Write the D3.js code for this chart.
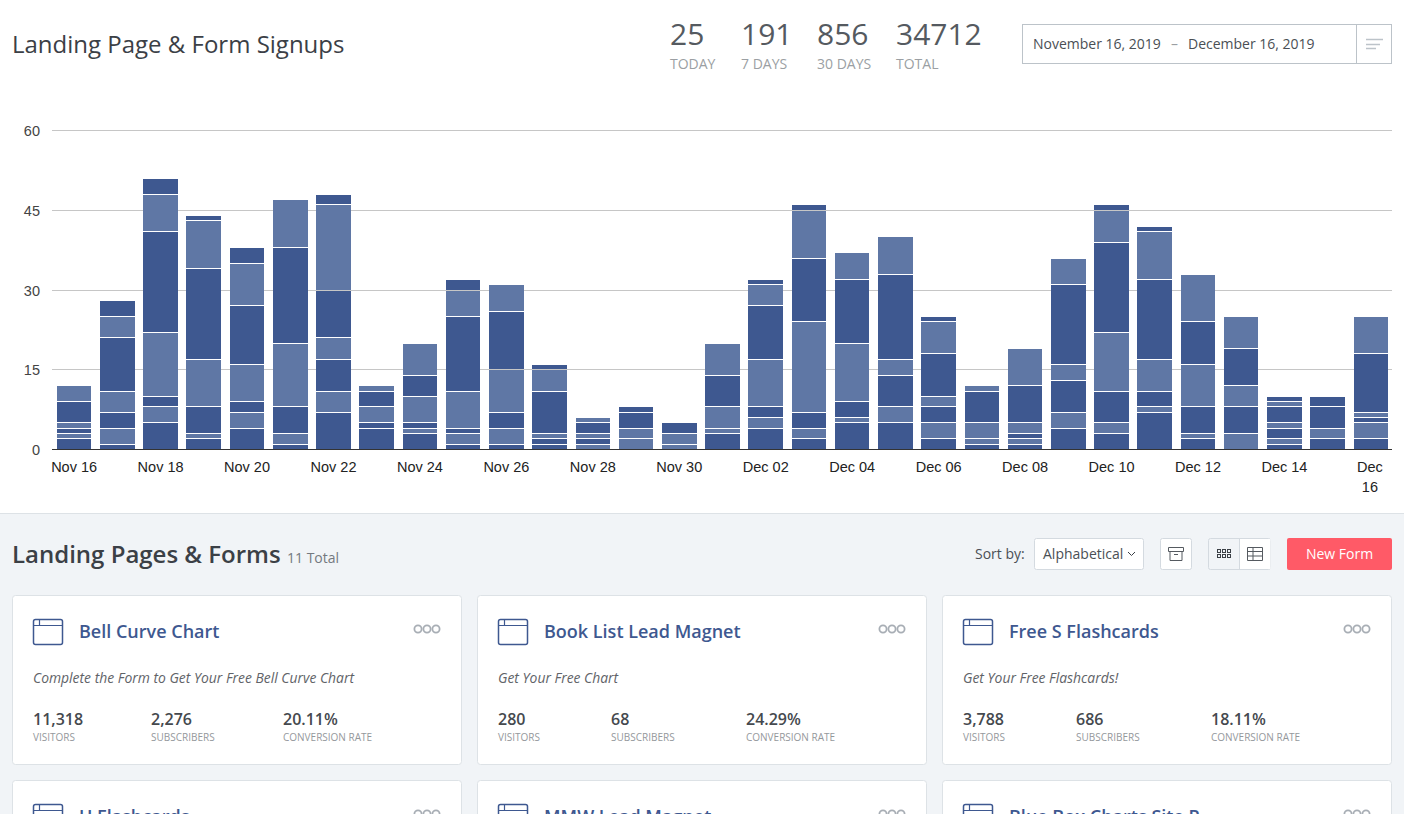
<!DOCTYPE html>
<html>
<head>
<meta charset="utf-8">
<script src="https://d3js.org/d3.v7.min.js"></script>
<style>
  html, body { margin: 0; padding: 0; background: #fff; overflow: hidden; }
  text { font-family: "Open Sans", sans-serif; }
  .axis text { font-family: "Liberation Sans", Arial, sans-serif; }
</style>
</head>
<body>
<div id="chart"></div>
<script>
const FRAME_WIDTH = 1404;
const FRAME_HEIGHT = 814;

const DAYS = ["Nov 16","Nov 17","Nov 18","Nov 19","Nov 20","Nov 21","Nov 22","Nov 23","Nov 24","Nov 25","Nov 26","Nov 27","Nov 28","Nov 29","Nov 30",
              "Dec 01","Dec 02","Dec 03","Dec 04","Dec 05","Dec 06","Dec 07","Dec 08","Dec 09","Dec 10","Dec 11","Dec 12","Dec 13","Dec 14","Dec 15","Dec 16"];

// one array per form, bottom of the stack first
const S0 = [2,1,5,2,4,1,7,4,3,1,1,1,0,0,0,3,4,2,5,5,2,1,1,4,3,7,2,0,1,2,2];
const S1 = [1,3,3,1,3,2,4,0,1,2,3,0,1,2,1,1,2,2,1,3,3,1,1,3,2,1,1,3,1,2,3];
const S2 = [1,3,2,5,2,5,6,1,1,1,3,1,1,0,0,0,2,3,3,6,3,0,1,6,6,3,5,5,2,4,1];
const S3 = [1,4,12,9,7,12,4,3,5,7,8,1,1,2,2,4,9,17,11,3,2,3,2,3,11,6,8,4,1,0,1];
const S4 = [4,10,19,17,11,18,9,3,4,14,11,8,2,3,2,6,10,12,12,16,8,6,7,15,17,15,8,7,3,2,11];
const S5 = [3,4,7,9,8,9,16,1,6,5,5,4,1,0,0,6,4,9,5,7,6,1,7,5,6,9,9,6,1,0,7];
const S6 = [0,3,3,1,3,0,2,0,0,2,0,1,0,1,0,0,1,1,0,0,1,0,0,0,1,1,0,0,1,0,0];
const SERIES = [S0, S1, S2, S3, S4, S5, S6];

const Y_TICKS = [0, 15, 30, 45, 60];
const X_TICKS = ["Nov 16","Nov 18","Nov 20","Nov 22","Nov 24","Nov 26","Nov 28","Nov 30","Dec 02","Dec 04","Dec 06","Dec 08","Dec 10","Dec 12","Dec 14","Dec 16"];

const STAT_VALUES = ["25", "191", "856", "34712"];
const STAT_LABELS = ["TODAY", "7 DAYS", "30 DAYS", "TOTAL"];

const CARD_TITLES = ["Bell Curve Chart", "Book List Lead Magnet", "Free S Flashcards"];
const CARD_SUBS = ["Complete the Form to Get Your Free Bell Curve Chart", "Get Your Free Chart", "Get Your Free Flashcards!"];
const CARD_VISITORS = ["11,318", "280", "3,788"];
const CARD_SUBSCRIBERS = ["2,276", "68", "686"];
const CARD_RATES = ["20.11%", "24.29%", "18.11%"];
const CARD_TITLES2 = ["U Flashcards", "MMW Lead Magnet", "Blue Box Charts Site P"];

const DARK = "#3e5890";
const LIGHT = "#5f77a5";

const FRAME = d3.select("#chart").append("svg")
    .attr("width", FRAME_WIDTH)
    .attr("height", FRAME_HEIGHT)
    .style("display", "block");

const X_SCALE = d3.scaleBand().domain(DAYS).range([52.5, 1392.5]).paddingInner(0.2).paddingOuter(0.1);
const Y_SCALE = d3.scaleLinear().domain([0, 60]).range([449.5, 130.5]);

// helper for text
function label(parent, x, y, str, size, color, extra) {
  const t = parent.append("text").attr("x", x).attr("y", y).text(str)
      .attr("font-size", size).attr("fill", color);
  if (extra) Object.keys(extra).forEach((k) => t.attr(k, extra[k]));
  return t;
}

// header
label(FRAME, 12, 53, "Landing Page & Form Signups", 24, "#3b4046");

const STAT_X = [670, 741, 817, 896];
STAT_VALUES.forEach((v, i) => {
  label(FRAME, STAT_X[i], 45, v, 30, "#555a60");
  label(FRAME, STAT_X[i], 69, STAT_LABELS[i], 14, "#9b9fa3");
});

FRAME.append("rect").attr("x", 1022.5).attr("y", 24.5).attr("width", 369).attr("height", 39)
    .attr("fill", "#fff").attr("stroke", "#bcc3c9");
FRAME.append("line").attr("x1", 1356.5).attr("x2", 1356.5).attr("y1", 24.5).attr("y2", 63.5).attr("stroke", "#bcc3c9");
label(FRAME, 1033, 49, "November 16, 2019", 14, "#4a4f55");
label(FRAME, 1171, 49, "–", 14, "#9b9fa3");
label(FRAME, 1188, 49, "December 16, 2019", 14, "#4a4f55");
[[1366, 1383, 39.5], [1366, 1380, 44.5], [1366, 1376, 48.5]].forEach((d) => {
  FRAME.append("line").attr("x1", d[0]).attr("x2", d[1]).attr("y1", d[2]).attr("y2", d[2])
      .attr("stroke", "#bcc3c9").attr("stroke-width", 1.5);
});

// gridlines + y labels
const yAxis = d3.axisLeft(Y_SCALE).tickValues(Y_TICKS).tickSize(-1340).tickPadding(12);
const yG = FRAME.append("g").attr("class", "axis").attr("transform", "translate(52,0)").call(yAxis);
yG.select(".domain").remove();
yG.selectAll(".tick").attr("transform", (d) => "translate(0," + (Math.floor(Y_SCALE(d)) + 0.5) + ")");
yG.selectAll(".tick line").attr("stroke", "#c6c6c6");
yG.selectAll(".tick text").attr("font-size", 14.5).attr("fill", "#444").attr("y", 1);

// stacked bars, top row of a segment sits just under its gap row
const stacked = d3.stack().keys(d3.range(SERIES.length)).value((d, k) => SERIES[k][d])(d3.range(DAYS.length));
const rows = (d) => Math.floor(Y_SCALE(d)) + 1;

FRAME.append("g").selectAll("g")
    .data(stacked)
    .enter().append("g")
      .attr("fill", (d, i) => (i % 2 === 0 ? DARK : LIGHT))
    .selectAll("rect")
    .data((d) => d.filter((p) => p[1] > p[0]))
    .enter().append("rect")
      .attr("x", (d) => Math.round(X_SCALE(DAYS[d.data])))
      .attr("width", (d) => Math.round(X_SCALE(DAYS[d.data]) + X_SCALE.bandwidth()) - Math.round(X_SCALE(DAYS[d.data])))
      .attr("y", (d) => rows(d[1]))
      .attr("height", (d) => rows(d[0]) - rows(d[1]) - 1);

// baseline and x labels
const xAxis = d3.axisBottom(X_SCALE).tickValues(X_TICKS).tickSize(0).tickPadding(12);
const xG = FRAME.append("g").attr("class", "axis").attr("transform", "translate(0,449.5)").call(xAxis);
xG.select(".domain").remove();
xG.selectAll(".tick text").attr("font-size", 14.5).attr("fill", "#222");
FRAME.append("line").attr("x1", 52).attr("x2", 1392).attr("y1", Y_SCALE(0)).attr("y2", Y_SCALE(0)).attr("stroke", "#333");

// last label wraps on two lines
const lastTick = xG.selectAll(".tick text").filter((d) => d === "Dec 16");
lastTick.text(null);
lastTick.append("tspan").attr("x", -1).attr("dy", "0.71em").text("Dec");
lastTick.append("tspan").attr("x", -1).attr("dy", "1.39em").text("16");

// lower panel
FRAME.append("rect").attr("x", 0).attr("y", 514).attr("width", FRAME_WIDTH).attr("height", 300).attr("fill", "#f1f4f7");
FRAME.append("line").attr("x1", 0).attr("x2", FRAME_WIDTH).attr("y1", 513.5).attr("y2", 513.5).attr("stroke", "#dde2e6");

label(FRAME, 12, 563, "Landing Pages & Forms", 24, "#3b4046", {"font-weight": 600});
label(FRAME, 287, 563, "11 Total", 14, "#74797f");
label(FRAME, 975, 559, "Sort by:", 14, "#4a4f55");

function box(x, y, w, h, fill, stroke) {
  return FRAME.append("rect").attr("x", x).attr("y", y).attr("width", w).attr("height", h)
      .attr("rx", 2).attr("fill", fill).attr("stroke", stroke);
}
const BORDER = "#d4dae0";
box(1034.5, 538.5, 109, 31, "#fff", BORDER);
label(FRAME, 1043, 559, "Alphabetical", 14, "#4a4f55");
FRAME.append("path").attr("d", "M1128 552 l3.5 3.5 l3.5 -3.5").attr("fill", "none").attr("stroke", "#3b4046");

box(1160.5, 538.5, 31, 31, "#fff", BORDER);
FRAME.append("path").attr("d", "M1168.5 547.5 h15 v4 h-15 z M1170 551.5 v9 h12 v-9 M1174 554.5 h4")
    .attr("fill", "none").attr("stroke", "#555a60");

box(1208.5, 538.5, 62, 31, "#f1f4f7", BORDER);
FRAME.append("rect").attr("x", 1239.5).attr("y", 539).attr("width", 31).attr("height", 30).attr("fill", "#fff");
FRAME.append("line").attr("x1", 1239.5).attr("x2", 1239.5).attr("y1", 538.5).attr("y2", 569.5).attr("stroke", BORDER);
d3.range(2).forEach((r) => d3.range(3).forEach((c) => {
  FRAME.append("rect").attr("x", 1217.5 + c * 5).attr("y", 549.5 + r * 5).attr("width", 3).attr("height", 3)
      .attr("fill", "none").attr("stroke", "#3b4046");
}));
FRAME.append("path").attr("d", "M1247.5 547.5 h15 v13 h-15 z M1247.5 551.5 h15 M1247.5 556 h15 M1253 547.5 v13")
    .attr("fill", "none").attr("stroke", "#555a60");

FRAME.append("rect").attr("x", 1287).attr("y", 538).attr("width", 105).attr("height", 32).attr("rx", 2).attr("fill", "#ff5a67");
label(FRAME, 1339.5, 559, "New Form", 14, "#fff", {"text-anchor": "middle"});

// form cards
const CARD_X = [12, 477, 942];
const COL_SUBS = [139, 134, 134];
const COL_RATES = [271, 269, 269];
function card(x, y, title) {
  const g = FRAME.append("g").attr("transform", "translate(" + x + "," + y + ")");
  g.append("rect").attr("x", 0.5).attr("y", 0.5).attr("width", 449).attr("height", 169).attr("rx", 3)
      .attr("fill", "#fff").attr("stroke", "#dde2e6");
  g.append("rect").attr("x", 21.5).attr("y", 24.5).attr("width", 29).attr("height", 25).attr("rx", 2)
      .attr("fill", "none").attr("stroke", DARK).attr("stroke-width", 1.5);
  g.append("path").attr("d", "M21.5 30.5 h29 M27.5 24.5 v6").attr("fill", "none").attr("stroke", DARK).attr("stroke-width", 1.2);
  label(g, 67, 43, title, 18, DARK, {"font-weight": 600});
  [406, 415, 424].forEach((cx) => {
    g.append("circle").attr("cx", cx).attr("cy", 34).attr("r", 3.6)
        .attr("fill", "none").attr("stroke", "#a8aeb5").attr("stroke-width", 1.8);
  });
  return g;
}
CARD_X.forEach((x, i) => {
  const g = card(x, 595, CARD_TITLES[i]);
  label(g, 21, 88, CARD_SUBS[i], 13.9, "#5f6368", {"font-style": "italic"});
  [[21, CARD_VISITORS[i], "VISITORS"], [COL_SUBS[i], CARD_SUBSCRIBERS[i], "SUBSCRIBERS"], [COL_RATES[i], CARD_RATES[i], "CONVERSION RATE"]].forEach((c) => {
    label(g, c[0], 130, c[1], 16, "#45494e", {"font-weight": 600});
    label(g, c[0], 146, c[2], 10, "#94989c");
  });
  card(x, 780, CARD_TITLES2[i]);
});
</script>
</body>
</html>
